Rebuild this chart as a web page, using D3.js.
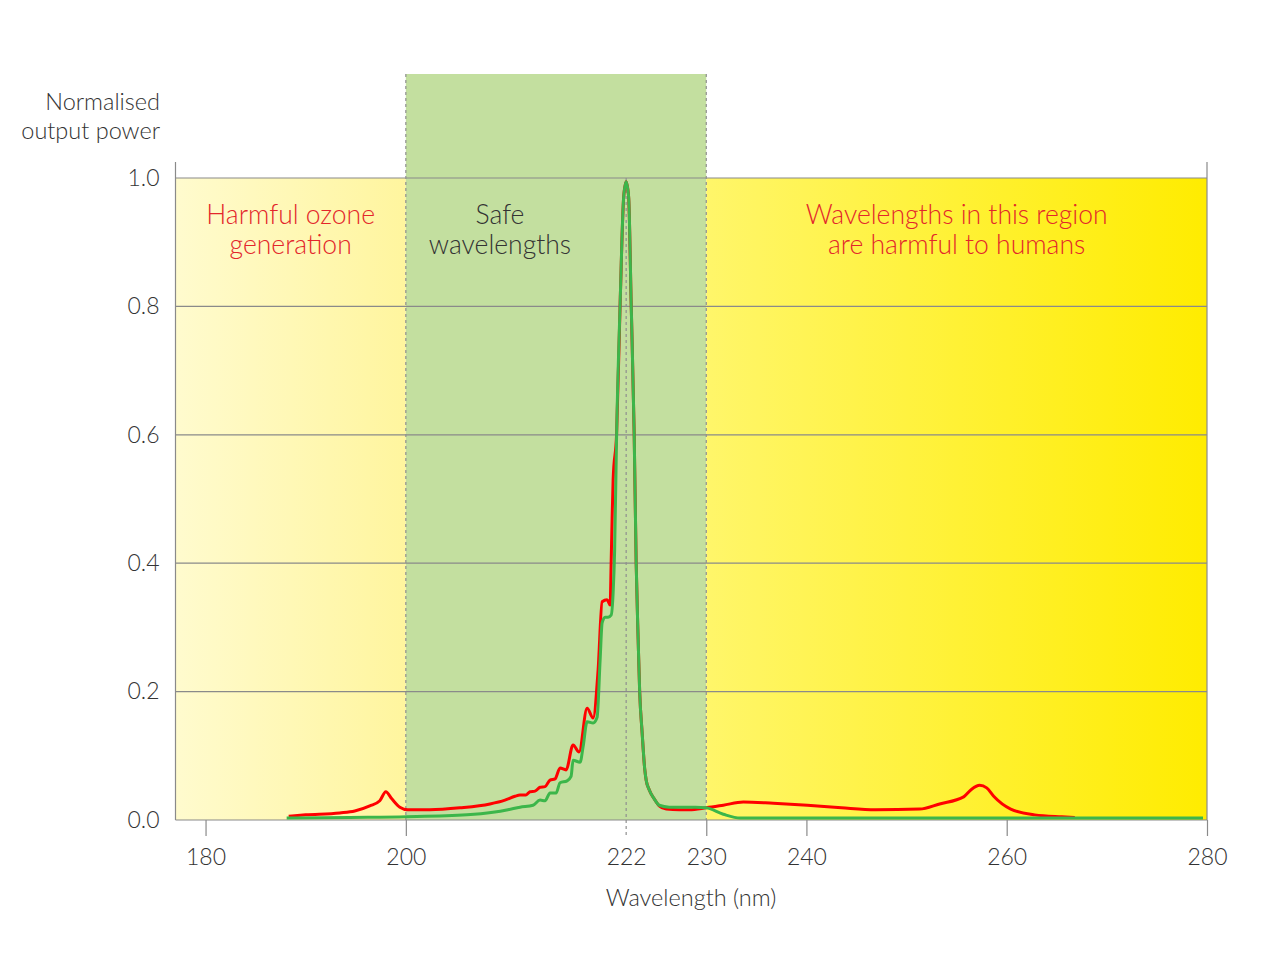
<!DOCTYPE html>
<html><head><meta charset="utf-8">
<script src="https://cdn.jsdelivr.net/npm/d3@7"></script>
<style>
body{margin:0;background:#fff;}
svg{display:block;font-family:Lato,"Open Sans",sans-serif;font-weight:300;}
</style></head>
<body><svg id="chart" width="1270" height="957"></svg>
<script>
// ---- data ----
const xTicks = [180, 200, 222, 230, 240, 260, 280];
const yTicks = [0, 0.2, 0.4, 0.6, 0.8, 1.0];
const regions = [
  {name:"ozone", from:177, to:200},
  {name:"safe", from:200, to:230},
  {name:"harmful", from:230, to:280}
];
const regionLabels = [
  {lines:["Harmful ozone","generation"], at:188.5, cls:"red"},
  {lines:["Safe","wavelengths"], at:209.4, cls:"dark"},
  {lines:["Wavelengths in this region","are harmful to humans"], at:255, cls:"red"}
];
const redWl = [188.3,190.0,193.4,194.9,196.4,197.4,198.0,198.6,199.4,200.2,202.4,205.4,208.4,209.9,210.9,211.4,212.0,212.4,212.9,213.4,213.9,214.4,214.9,215.4,216.0,216.7,217.3,218.1,218.7,219.2,219.6,220.1,220.4,220.5,220.6,220.7,221.05,221.4,221.75,222.0,222.25,222.5,222.8,223.0,223.2,223.35,223.6,223.85,224.0,224.3,224.8,225.3,226.0,227.3,228.3,230.0,231.7,233.7,236.7,240.1,243.5,246.9,251.3,253.3,255.7,256.5,257.3,258.0,258.7,260.4,262.8,265.5,266.8];
const redVal = [0.006,0.008,0.011,0.014,0.022,0.030,0.044,0.033,0.020,0.016,0.016,0.019,0.025,0.031,0.037,0.039,0.039,0.044,0.045,0.051,0.052,0.062,0.064,0.081,0.078,0.117,0.106,0.174,0.159,0.234,0.340,0.343,0.335,0.40,0.47,0.53,0.603,0.805,0.97,0.994,0.97,0.805,0.603,0.40,0.28,0.20,0.135,0.08,0.062,0.047,0.033,0.022,0.017,0.016,0.016,0.019,0.023,0.028,0.026,0.023,0.019,0.016,0.017,0.025,0.036,0.048,0.054,0.050,0.037,0.017,0.008,0.005,0.004];
const greenWl = [188.1,194.4,200.1,206.1,208.7,210.2,211.4,212.7,213.4,213.9,214.4,215.0,215.4,216.1,216.5,216.7,217.4,217.7,218.1,218.7,219.1,219.4,219.6,219.9,220.2,220.5,220.7,220.85,221.05,221.4,221.75,222.0,222.25,222.5,222.8,223.0,223.2,223.35,223.6,223.85,224.0,224.3,224.8,225.3,226.3,228.9,230.0,231.7,233.4,239.3,259.3,279.6];
const greenVal = [0.003,0.004,0.005,0.008,0.012,0.016,0.020,0.023,0.031,0.030,0.042,0.042,0.058,0.061,0.068,0.093,0.090,0.114,0.153,0.151,0.160,0.249,0.307,0.316,0.316,0.319,0.354,0.42,0.603,0.805,0.97,0.994,0.97,0.805,0.603,0.40,0.28,0.20,0.135,0.08,0.062,0.047,0.033,0.023,0.020,0.020,0.019,0.009,0.003,0.003,0.003,0.003];

// ---- layout ----
const svg = d3.select("#chart");
const x = d3.scaleLinear().domain([177, 280]).range([175.5, 1207]);
const y = d3.scaleLinear().domain([0, 1]).range([820, 178]);
const axisColor = "#8a8a8a";
const textColor = "#333333";

const defs = svg.append("defs");
const g1 = defs.append("linearGradient").attr("id","gLeft").attr("x1","0").attr("x2","1").attr("y1","0").attr("y2","0");
g1.append("stop").attr("offset","0").attr("stop-color","#fffbce");
g1.append("stop").attr("offset","1").attr("stop-color","#fff59e");
const g2 = defs.append("linearGradient").attr("id","gRight").attr("x1","0").attr("x2","1").attr("y1","0").attr("y2","0");
g2.append("stop").attr("offset","0").attr("stop-color","#fff66a");
g2.append("stop").attr("offset","1").attr("stop-color","#ffec00");

const fills = {ozone:"url(#gLeft)", safe:"#c3df9f", harmful:"url(#gRight)"};
svg.selectAll("rect.region").data(regions).join("rect")
  .attr("class","region")
  .attr("x", d => x(d.from))
  .attr("width", d => x(d.to) - x(d.from))
  .attr("y", d => d.name === "safe" ? 74 : y(1))
  .attr("height", d => y(0) - (d.name === "safe" ? 74 : y(1)))
  .attr("fill", d => fills[d.name]);

// gridlines
svg.selectAll("line.grid").data(yTicks.filter(t => t > 0)).join("line")
  .attr("x1", x(177)).attr("x2", x(280))
  .attr("y1", d => y(d)).attr("y2", d => y(d))
  .attr("stroke", axisColor).attr("stroke-width", 1.2);

// dashed region boundaries
[200, 230].forEach(v => {
  svg.append("line").attr("x1", x(v)).attr("x2", x(v)).attr("y1", 74).attr("y2", y(0))
    .attr("stroke", "#8f8f8f").attr("stroke-width", 1.2).attr("stroke-dasharray", "3,3");
});
svg.append("line").attr("x1", x(222)).attr("x2", x(222)).attr("y1", y(1)).attr("y2", 838)
  .attr("stroke", "#8f8f8f").attr("stroke-width", 1.2).attr("stroke-dasharray", "3,3");

// axes frame
svg.append("line").attr("x1", x(177)).attr("x2", x(177)).attr("y1", 162).attr("y2", y(0)).attr("stroke", axisColor).attr("stroke-width",1.2);
svg.append("line").attr("x1", x(280)).attr("x2", x(280)).attr("y1", 162).attr("y2", y(0)).attr("stroke", axisColor).attr("stroke-width",1.2);

// x axis
const xAxis = d3.axisBottom(x).tickValues(xTicks).tickSize(16).tickPadding(13).tickFormat(d3.format("d"));
const gx = svg.append("g").attr("transform", `translate(0,${y(0)})`).call(xAxis);
gx.select(".domain").attr("stroke", axisColor).attr("stroke-width",1.2).attr("d", `M${x(177)},0H${x(280)}`);
gx.selectAll(".tick line").attr("stroke", axisColor).attr("stroke-width",1.2).style("display", d => d === 222 ? "none" : null);
gx.selectAll(".tick text").attr("fill", textColor).style("font-size","23px").style("font-family","Lato, sans-serif").style("font-weight",300);

// y axis
const yAxis = d3.axisLeft(y).tickValues(yTicks).tickSize(0).tickPadding(16).tickFormat(d3.format(".1f"));
const gy = svg.append("g").attr("transform", `translate(${x(177)},0)`).call(yAxis);
gy.select(".domain").remove();
gy.selectAll(".tick text").attr("fill", textColor).style("font-size","23px").style("font-family","Lato, sans-serif").style("font-weight",300);

// curves
const line = d3.line().x(d => x(d[0])).y(d => y(d[1])).curve(d3.curveMonotoneX);
svg.append("path").datum(d3.zip(redWl, redVal)).attr("d", line)
  .attr("fill","none").attr("stroke","#ff0000").attr("stroke-width",3).attr("stroke-linejoin","round");
svg.append("path").datum(d3.zip(greenWl, greenVal)).attr("d", line)
  .attr("fill","none").attr("stroke","#3cb64a").attr("stroke-width",3).attr("stroke-linejoin","round");

// region labels
regionLabels.forEach(r => {
  const t = svg.append("text").attr("x", x(r.at)).attr("y", 224).attr("text-anchor","middle")
    .attr("fill", r.cls === "red" ? "#e3262b" : "#333333").style("font-size","26.5px");
  r.lines.forEach((l, i) => t.append("tspan").attr("x", x(r.at)).attr("dy", i === 0 ? 0 : 30).text(l));
});

// axis titles
const yt = svg.append("text").attr("x", 160).attr("y", 110).attr("text-anchor","end").attr("fill", textColor).style("font-size","23.5px");
yt.append("tspan").attr("x",160).text("Normalised");
yt.append("tspan").attr("x",160).attr("dy",29).text("output power");
svg.append("text").attr("x", 691).attr("y", 906).attr("text-anchor","middle").attr("fill", textColor).style("font-size","23.5px").text("Wavelength (nm)");
</script></body></html>
